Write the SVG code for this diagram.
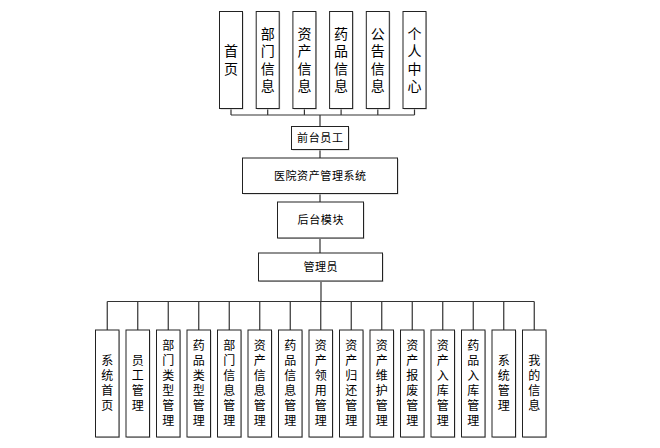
<svg xmlns="http://www.w3.org/2000/svg" width="660" height="448" viewBox="0 0 660 448">
<style>
.box{fill:#fff;stroke:#222;stroke-width:1}
.sh{fill:#c8c8c8}
.ln{stroke:#333;stroke-width:1.2;fill:none}
text{font-family:"Liberation Sans","Noto Sans CJK SC",sans-serif;fill:#000}
.t1{font-size:14px;text-anchor:middle}
.t2{font-size:12px;text-anchor:middle}
.t3{font-size:11px;text-anchor:middle;letter-spacing:0.6px}
</style>
<rect width="660" height="448" fill="#fff"/>
<g id="connectors">
<path class="ln" d="M231 108.5V115M267.7 108.5V115M304.4 108.5V115M341.1 108.5V115M377.8 108.5V115M414.5 108.5V115M231 115H414.5M320 115V126.5"/>
<path class="ln" d="M320 149.5V158M320 193.5V202M320 238V253M321 281V301.5"/>
<path class="ln" d="M107.25 301.5H534.25M107.25 301.5V330M137.75 301.5V330M168.25 301.5V330M198.75 301.5V330M229.25 301.5V330M259.75 301.5V330M290.25 301.5V330M320.75 301.5V330M351.25 301.5V330M381.75 301.5V330M412.25 301.5V330M442.75 301.5V330M473.25 301.5V330M503.75 301.5V330M534.25 301.5V330"/>
</g>
<g id="n_home"><rect class="sh" x="220.5" y="12.5" width="23" height="97"/><rect class="box" x="219.5" y="11.5" width="23" height="97"/><text class="t1"><tspan x="231" y="56.25">首</tspan><tspan x="231" y="73.75">页</tspan></text></g>
<g id="n_dept"><rect class="sh" x="257.2" y="12.5" width="23" height="97"/><rect class="box" x="256.2" y="11.5" width="23" height="97"/><text class="t1"><tspan x="267.7" y="38.75">部</tspan><tspan x="267.7" y="56.25">门</tspan><tspan x="267.7" y="73.75">信</tspan><tspan x="267.7" y="91.25">息</tspan></text></g>
<g id="n_asset"><rect class="sh" x="293.9" y="12.5" width="23" height="97"/><rect class="box" x="292.9" y="11.5" width="23" height="97"/><text class="t1"><tspan x="304.4" y="38.75">资</tspan><tspan x="304.4" y="56.25">产</tspan><tspan x="304.4" y="73.75">信</tspan><tspan x="304.4" y="91.25">息</tspan></text></g>
<g id="n_drug"><rect class="sh" x="330.6" y="12.5" width="23" height="97"/><rect class="box" x="329.6" y="11.5" width="23" height="97"/><text class="t1"><tspan x="341.1" y="38.75">药</tspan><tspan x="341.1" y="56.25">品</tspan><tspan x="341.1" y="73.75">信</tspan><tspan x="341.1" y="91.25">息</tspan></text></g>
<g id="n_notice"><rect class="sh" x="367.3" y="12.5" width="23" height="97"/><rect class="box" x="366.3" y="11.5" width="23" height="97"/><text class="t1"><tspan x="377.8" y="38.75">公</tspan><tspan x="377.8" y="56.25">告</tspan><tspan x="377.8" y="73.75">信</tspan><tspan x="377.8" y="91.25">息</tspan></text></g>
<g id="n_personal"><rect class="sh" x="404" y="12.5" width="23" height="97"/><rect class="box" x="403" y="11.5" width="23" height="97"/><text class="t1"><tspan x="414.5" y="38.75">个</tspan><tspan x="414.5" y="56.25">人</tspan><tspan x="414.5" y="73.75">中</tspan><tspan x="414.5" y="91.25">心</tspan></text></g>
<g id="n_front"><rect class="sh" x="292.5" y="127.5" width="57" height="23"/><rect class="box" x="291.5" y="126.5" width="57" height="23"/><text class="t3" x="320.3" y="142">前台员工</text></g>
<g id="n_system"><rect class="sh" x="243.5" y="159" width="155" height="35.5"/><rect class="box" x="242.5" y="158" width="155" height="35.5"/><text class="t3" x="320.3" y="179.7">医院资产管理系统</text></g>
<g id="n_back"><rect class="sh" x="278.5" y="203" width="86" height="36"/><rect class="box" x="277.5" y="202" width="86" height="36"/><text class="t3" x="320.8" y="224">后台模块</text></g>
<g id="n_admin"><rect class="sh" x="259.5" y="254" width="124" height="28"/><rect class="box" x="258.5" y="253" width="124" height="28"/><text class="t3" x="320.8" y="271">管理员</text></g>
<g id="n_b1"><rect class="sh" x="96.5" y="331" width="23.5" height="107"/><rect class="box" x="95.5" y="330" width="23.5" height="107"/><text class="t2"><tspan x="107.25" y="365.3">系</tspan><tspan x="107.25" y="380.3">统</tspan><tspan x="107.25" y="395.3">首</tspan><tspan x="107.25" y="410.3">页</tspan></text></g>
<g id="n_b2"><rect class="sh" x="127" y="331" width="23.5" height="107"/><rect class="box" x="126" y="330" width="23.5" height="107"/><text class="t2"><tspan x="137.75" y="365.3">员</tspan><tspan x="137.75" y="380.3">工</tspan><tspan x="137.75" y="395.3">管</tspan><tspan x="137.75" y="410.3">理</tspan></text></g>
<g id="n_b3"><rect class="sh" x="157.5" y="331" width="23.5" height="107"/><rect class="box" x="156.5" y="330" width="23.5" height="107"/><text class="t2"><tspan x="168.25" y="350.3">部</tspan><tspan x="168.25" y="365.3">门</tspan><tspan x="168.25" y="380.3">类</tspan><tspan x="168.25" y="395.3">型</tspan><tspan x="168.25" y="410.3">管</tspan><tspan x="168.25" y="425.3">理</tspan></text></g>
<g id="n_b4"><rect class="sh" x="188" y="331" width="23.5" height="107"/><rect class="box" x="187" y="330" width="23.5" height="107"/><text class="t2"><tspan x="198.75" y="350.3">药</tspan><tspan x="198.75" y="365.3">品</tspan><tspan x="198.75" y="380.3">类</tspan><tspan x="198.75" y="395.3">型</tspan><tspan x="198.75" y="410.3">管</tspan><tspan x="198.75" y="425.3">理</tspan></text></g>
<g id="n_b5"><rect class="sh" x="218.5" y="331" width="23.5" height="107"/><rect class="box" x="217.5" y="330" width="23.5" height="107"/><text class="t2"><tspan x="229.25" y="350.3">部</tspan><tspan x="229.25" y="365.3">门</tspan><tspan x="229.25" y="380.3">信</tspan><tspan x="229.25" y="395.3">息</tspan><tspan x="229.25" y="410.3">管</tspan><tspan x="229.25" y="425.3">理</tspan></text></g>
<g id="n_b6"><rect class="sh" x="249" y="331" width="23.5" height="107"/><rect class="box" x="248" y="330" width="23.5" height="107"/><text class="t2"><tspan x="259.75" y="350.3">资</tspan><tspan x="259.75" y="365.3">产</tspan><tspan x="259.75" y="380.3">信</tspan><tspan x="259.75" y="395.3">息</tspan><tspan x="259.75" y="410.3">管</tspan><tspan x="259.75" y="425.3">理</tspan></text></g>
<g id="n_b7"><rect class="sh" x="279.5" y="331" width="23.5" height="107"/><rect class="box" x="278.5" y="330" width="23.5" height="107"/><text class="t2"><tspan x="290.25" y="350.3">药</tspan><tspan x="290.25" y="365.3">品</tspan><tspan x="290.25" y="380.3">信</tspan><tspan x="290.25" y="395.3">息</tspan><tspan x="290.25" y="410.3">管</tspan><tspan x="290.25" y="425.3">理</tspan></text></g>
<g id="n_b8"><rect class="sh" x="310" y="331" width="23.5" height="107"/><rect class="box" x="309" y="330" width="23.5" height="107"/><text class="t2"><tspan x="320.75" y="350.3">资</tspan><tspan x="320.75" y="365.3">产</tspan><tspan x="320.75" y="380.3">领</tspan><tspan x="320.75" y="395.3">用</tspan><tspan x="320.75" y="410.3">管</tspan><tspan x="320.75" y="425.3">理</tspan></text></g>
<g id="n_b9"><rect class="sh" x="340.5" y="331" width="23.5" height="107"/><rect class="box" x="339.5" y="330" width="23.5" height="107"/><text class="t2"><tspan x="351.25" y="350.3">资</tspan><tspan x="351.25" y="365.3">产</tspan><tspan x="351.25" y="380.3">归</tspan><tspan x="351.25" y="395.3">还</tspan><tspan x="351.25" y="410.3">管</tspan><tspan x="351.25" y="425.3">理</tspan></text></g>
<g id="n_b10"><rect class="sh" x="371" y="331" width="23.5" height="107"/><rect class="box" x="370" y="330" width="23.5" height="107"/><text class="t2"><tspan x="381.75" y="350.3">资</tspan><tspan x="381.75" y="365.3">产</tspan><tspan x="381.75" y="380.3">维</tspan><tspan x="381.75" y="395.3">护</tspan><tspan x="381.75" y="410.3">管</tspan><tspan x="381.75" y="425.3">理</tspan></text></g>
<g id="n_b11"><rect class="sh" x="401.5" y="331" width="23.5" height="107"/><rect class="box" x="400.5" y="330" width="23.5" height="107"/><text class="t2"><tspan x="412.25" y="350.3">资</tspan><tspan x="412.25" y="365.3">产</tspan><tspan x="412.25" y="380.3">报</tspan><tspan x="412.25" y="395.3">废</tspan><tspan x="412.25" y="410.3">管</tspan><tspan x="412.25" y="425.3">理</tspan></text></g>
<g id="n_b12"><rect class="sh" x="432" y="331" width="23.5" height="107"/><rect class="box" x="431" y="330" width="23.5" height="107"/><text class="t2"><tspan x="442.75" y="350.3">资</tspan><tspan x="442.75" y="365.3">产</tspan><tspan x="442.75" y="380.3">入</tspan><tspan x="442.75" y="395.3">库</tspan><tspan x="442.75" y="410.3">管</tspan><tspan x="442.75" y="425.3">理</tspan></text></g>
<g id="n_b13"><rect class="sh" x="462.5" y="331" width="23.5" height="107"/><rect class="box" x="461.5" y="330" width="23.5" height="107"/><text class="t2"><tspan x="473.25" y="350.3">药</tspan><tspan x="473.25" y="365.3">品</tspan><tspan x="473.25" y="380.3">入</tspan><tspan x="473.25" y="395.3">库</tspan><tspan x="473.25" y="410.3">管</tspan><tspan x="473.25" y="425.3">理</tspan></text></g>
<g id="n_b14"><rect class="sh" x="493" y="331" width="23.5" height="107"/><rect class="box" x="492" y="330" width="23.5" height="107"/><text class="t2"><tspan x="503.75" y="365.3">系</tspan><tspan x="503.75" y="380.3">统</tspan><tspan x="503.75" y="395.3">管</tspan><tspan x="503.75" y="410.3">理</tspan></text></g>
<g id="n_b15"><rect class="sh" x="523.5" y="331" width="23.5" height="107"/><rect class="box" x="522.5" y="330" width="23.5" height="107"/><text class="t2"><tspan x="534.25" y="365.3">我</tspan><tspan x="534.25" y="380.3">的</tspan><tspan x="534.25" y="395.3">信</tspan><tspan x="534.25" y="410.3">息</tspan></text></g>
</svg>
